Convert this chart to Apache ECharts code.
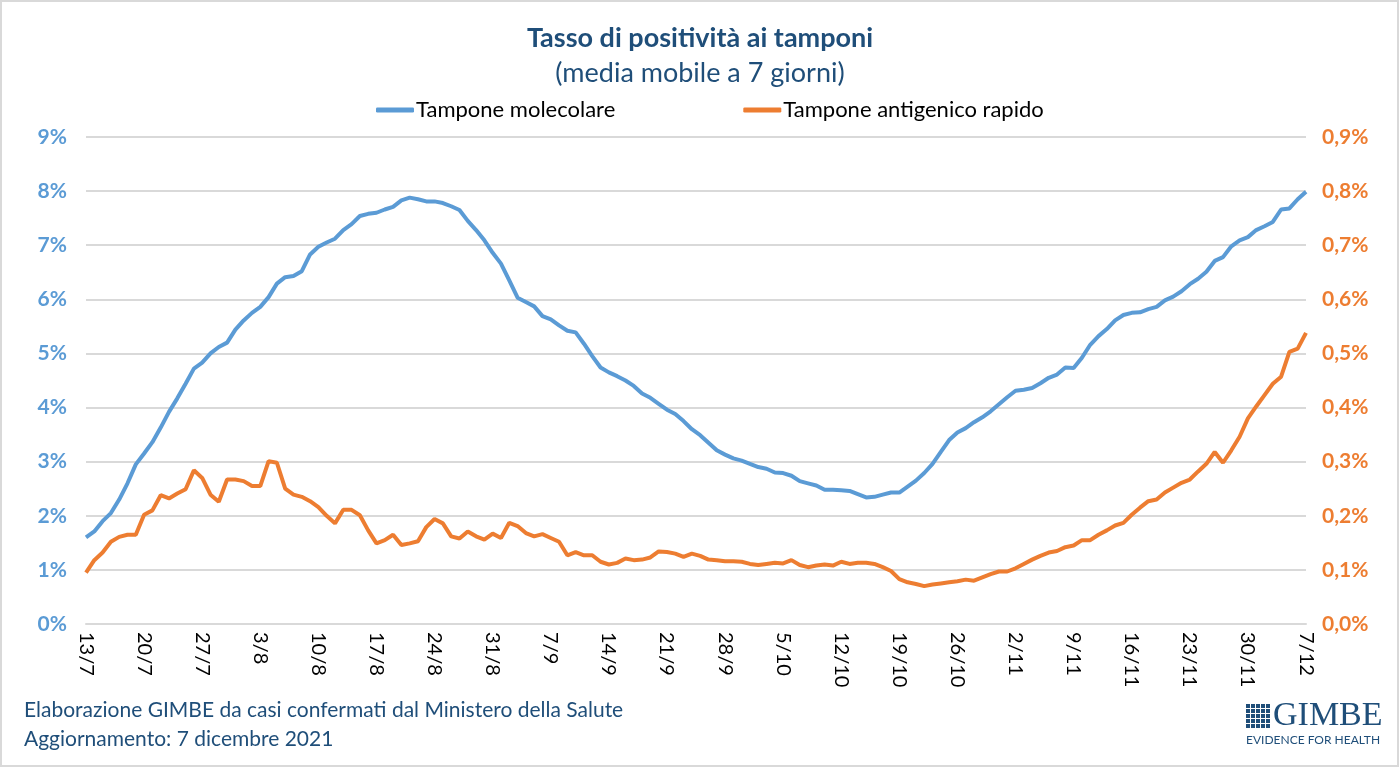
<!DOCTYPE html>
<html>
<head>
<meta charset="utf-8">
<script src="https://cdn.jsdelivr.net/npm/echarts@6/dist/echarts.min.js"></script>
<style>
html,body{margin:0;padding:0;background:#fff;}
#chart{width:1400px;height:768px;}
</style>
</head>
<body>
<div id="chart"></div>
<script>
const categories = [
"13/7","14/7","15/7","16/7","17/7","18/7","19/7","20/7","21/7","22/7","23/7","24/7","25/7","26/7","27/7","28/7","29/7","30/7","31/7",
"1/8","2/8","3/8","4/8","5/8","6/8","7/8","8/8","9/8","10/8","11/8","12/8","13/8","14/8","15/8","16/8","17/8","18/8","19/8","20/8","21/8","22/8","23/8","24/8","25/8","26/8","27/8","28/8","29/8","30/8","31/8",
"1/9","2/9","3/9","4/9","5/9","6/9","7/9","8/9","9/9","10/9","11/9","12/9","13/9","14/9","15/9","16/9","17/9","18/9","19/9","20/9","21/9","22/9","23/9","24/9","25/9","26/9","27/9","28/9","29/9","30/9",
"1/10","2/10","3/10","4/10","5/10","6/10","7/10","8/10","9/10","10/10","11/10","12/10","13/10","14/10","15/10","16/10","17/10","18/10","19/10","20/10","21/10","22/10","23/10","24/10","25/10","26/10","27/10","28/10","29/10","30/10","31/10",
"1/11","2/11","3/11","4/11","5/11","6/11","7/11","8/11","9/11","10/11","11/11","12/11","13/11","14/11","15/11","16/11","17/11","18/11","19/11","20/11","21/11","22/11","23/11","24/11","25/11","26/11","27/11","28/11","29/11","30/11",
"1/12","2/12","3/12","4/12","5/12","6/12","7/12"
];

// Tampone molecolare (%), left axis
const molecolare = [
1.60,1.71,1.90,2.05,2.30,2.60,2.95,3.15,3.36,3.63,
3.92,4.17,4.44,4.72,4.83,5.00,5.12,5.20,5.44,5.61,
5.75,5.86,6.04,6.29,6.41,6.43,6.52,6.83,6.97,7.05,
7.12,7.28,7.39,7.54,7.58,7.60,7.66,7.71,7.83,7.88,
7.85,7.81,7.81,7.78,7.72,7.65,7.45,7.28,7.09,6.86,
6.66,6.35,6.03,5.95,5.87,5.69,5.63,5.52,5.42,5.39,
5.18,4.95,4.74,4.65,4.58,4.50,4.40,4.26,4.18,4.07,
3.96,3.88,3.75,3.60,3.49,3.35,3.21,3.13,3.06,3.02,
2.96,2.90,2.87,2.80,2.79,2.74,2.64,2.60,2.56,2.48,
2.48,2.47,2.46,2.40,2.34,2.35,2.39,2.43,2.43,2.54,
2.65,2.79,2.96,3.18,3.40,3.54,3.62,3.73,3.82,3.93,
4.06,4.19,4.31,4.33,4.36,4.45,4.55,4.61,4.74,4.73,
4.92,5.16,5.32,5.45,5.61,5.71,5.75,5.76,5.82,5.86,
5.98,6.05,6.15,6.28,6.38,6.51,6.71,6.78,6.98,7.09,
7.15,7.28,7.35,7.43,7.66,7.68,7.85,7.99
];

// Tampone antigenico rapido (%), right axis
const antigenico = [
0.095,0.118,0.132,0.152,0.161,0.165,0.165,0.202,0.210,0.238,
0.232,0.241,0.249,0.284,0.270,0.239,0.226,0.267,0.267,0.264,
0.255,0.255,0.301,0.298,0.250,0.239,0.235,0.227,0.216,0.200,
0.186,0.211,0.211,0.201,0.173,0.149,0.155,0.165,0.146,0.149,
0.153,0.179,0.194,0.186,0.162,0.158,0.171,0.162,0.156,0.167,
0.159,0.187,0.181,0.168,0.162,0.166,0.159,0.152,0.127,0.133,
0.127,0.127,0.115,0.110,0.113,0.121,0.118,0.119,0.123,0.134,
0.133,0.130,0.124,0.130,0.126,0.119,0.118,0.116,0.116,0.115,
0.111,0.109,0.111,0.113,0.112,0.118,0.109,0.105,0.108,0.110,
0.108,0.115,0.111,0.113,0.113,0.111,0.105,0.098,0.083,0.077,
0.074,0.070,0.073,0.075,0.077,0.079,0.082,0.080,0.086,0.092,
0.097,0.097,0.103,0.111,0.119,0.126,0.132,0.135,0.142,0.145,
0.155,0.155,0.165,0.173,0.182,0.187,0.202,0.215,0.227,0.230,
0.243,0.252,0.261,0.267,0.282,0.296,0.318,0.298,0.321,0.346,
0.380,0.402,0.423,0.444,0.457,0.503,0.509,0.538
];

const seriesNames = ["Tampone molecolare", "Tampone antigenico rapido"];
const titleText = "Tasso di positività ai tamponi";
const subtitleText = "(media mobile a 7 giorni)";
const footer1 = "Elaborazione GIMBE da casi confermati dal Ministero della Salute";
const footer2 = "Aggiornamento: 7 dicembre 2021";

const BLUE = "#5B9BD5", ORANGE = "#ED7D31", NAVY = "#1F4E79";
const FONT = "Lato";

const chart = echarts.init(document.getElementById('chart'));

// logo grid squares
const logoSquares = [];
for (let r = 0; r < 5; r++) {
  for (let c = 0; c < 5; c++) {
    logoSquares.push({type:'rect', shape:{x:1246 + c*5, y:704 + r*5, width:4, height:4}, style:{fill:NAVY}});
  }
}

chart.setOption({
  backgroundColor: '#fff',
  animation: false,
  title: [
    {text: titleText, left: 'center', top: 20,
     textStyle: {fontFamily: FONT, fontSize: 27, fontWeight: 'bold', color: NAVY}},
    {text: subtitleText, left: 'center', top: 55,
     textStyle: {fontFamily: FONT, fontSize: 27, fontWeight: 'normal', color: NAVY}}
  ],
  legend: {
    left: 371, top: 94,
    itemWidth: 38, itemHeight: 5, itemGap: 128,
    icon: 'roundRect',
    textStyle: {fontFamily: FONT, fontSize: 22, color: '#000', padding: [0,0,0,-3]},
    data: seriesNames
  },
  grid: {left: 86, right: 94, top: 137, bottom: 144, containLabel: false},
  xAxis: {
    type: 'category',
    data: categories,
    boundaryGap: false,
    axisLine: {lineStyle: {color: '#D9D9D9', width: 2}},
    axisTick: {show: false},
    axisLabel: {interval: 6, rotate: -90, margin: 8, fontFamily: FONT, fontSize: 20, color: '#000'},
    splitLine: {show: false}
  },
  yAxis: [
    {
      type: 'value', min: 0, max: 9, interval: 1, position: 'left',
      axisLine: {show: false}, axisTick: {show: false},
      axisLabel: {formatter: '{value}%', margin: 19, fontFamily: FONT, fontSize: 21, fontWeight: 'bold', color: BLUE},
      splitLine: {lineStyle: {color: '#D9D9D9', width: 2}}
    },
    {
      type: 'value', min: 0, max: 0.9, interval: 0.1, position: 'right',
      axisLine: {show: false}, axisTick: {show: false},
      axisLabel: {formatter: v => v.toFixed(1).replace('.', ',') + '%', margin: 16, fontFamily: FONT, fontSize: 21, fontWeight: 'bold', color: ORANGE},
      splitLine: {show: false}
    }
  ],
  series: [
    {name: seriesNames[0], type: 'line', yAxisIndex: 0, data: molecolare, showSymbol: false,
     lineStyle: {color: BLUE, width: 4}, itemStyle: {color: BLUE}},
    {name: seriesNames[1], type: 'line', yAxisIndex: 1, data: antigenico, showSymbol: false,
     lineStyle: {color: ORANGE, width: 4}, itemStyle: {color: ORANGE}}
  ],
  graphic: [
    {type: 'rect', shape: {x: 1, y: 1, width: 1397, height: 765}, style: {fill: 'none', stroke: '#D9D9D9', lineWidth: 2}, silent: true},
    {type: 'text', left: 24, top: 700, style: {text: footer1, fontFamily: FONT, fontSize: 21, fill: NAVY}},
    {type: 'text', left: 24, top: 729, style: {text: footer2, fontFamily: FONT, fontSize: 21, fill: NAVY}},
    {type: 'group', children: logoSquares},
    {type: 'text', left: 1273, top: 699, style: {text: 'GIMBE', fontFamily: 'Liberation Serif', fontSize: 34, fill: NAVY}},
    {type: 'text', left: 1246, top: 734, style: {text: 'EVIDENCE FOR HEALTH', fontFamily: FONT, fontSize: 12, fill: NAVY}}
  ]
});
</script>
</body>
</html>
